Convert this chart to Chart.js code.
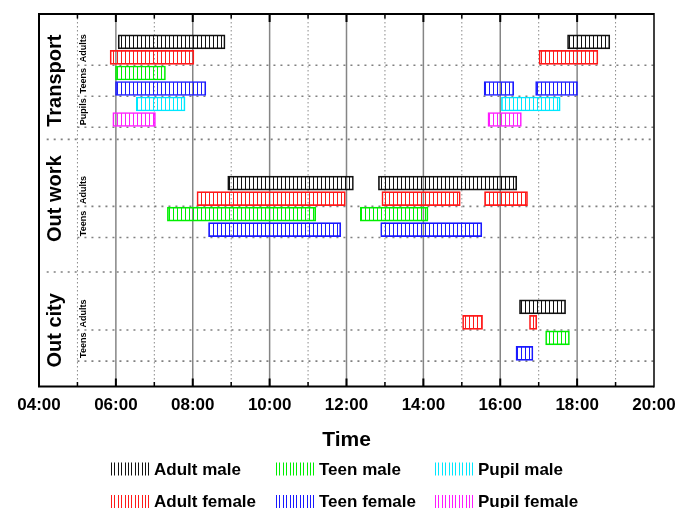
<!DOCTYPE html>
<html>
<head>
<meta charset="utf-8">
<script src="https://cdn.jsdelivr.net/npm/chart.js@4/dist/chart.umd.min.js"></script>
<style>
html,body{margin:0;padding:0;background:#fff;}
#wrap{width:678px;height:508px;}
</style>
</head>
<body>
<div id="wrap"><canvas id="c" width="678" height="508"></canvas></div>
<script>
// ---------------- DATA ----------------
const activities = ['Transport', 'Out work', 'Out city'];
const hourTicks = [4, 6, 8, 10, 12, 14, 16, 18, 20];
const seriesNames = ['Adult male', 'Teen male', 'Pupil male', 'Adult female', 'Teen female', 'Pupil female'];

// [activity, start hour, end hour]
const adultMale = [
  ['Transport', 6.06, 8.84], ['Transport', 17.75, 18.85],
  ['Out work', 8.91, 12.18], ['Out work', 12.83, 16.43],
  ['Out city', 16.50, 17.70]
];
const adultFemale = [
  ['Transport', 5.85, 8.03], ['Transport', 17.01, 18.54],
  ['Out work', 8.11, 11.97], ['Out work', 12.92, 14.96], ['Out work', 15.59, 16.71],
  ['Out city', 15.02, 15.54], ['Out city', 16.76, 16.95]
];
const teenMale = [
  ['Transport', 5.99, 7.29],
  ['Out work', 7.34, 11.20], ['Out work', 12.36, 14.12],
  ['Out city', 17.18, 17.80]
];
const teenFemale = [
  ['Transport', 5.99, 8.34], ['Transport', 15.58, 16.35], ['Transport', 16.92, 18.01],
  ['Out work', 8.41, 11.85], ['Out work', 12.89, 15.52],
  ['Out city', 16.41, 16.85]
];
const pupilMale = [
  ['Transport', 6.53, 7.80], ['Transport', 16.03, 17.56]
];
const pupilFemale = [
  ['Transport', 5.92, 7.03], ['Transport', 15.68, 16.55]
];
const seriesData = [adultMale, teenMale, pupilMale, adultFemale, teenFemale, pupilFemale];

// ---------------- LAYOUT / STYLE ----------------
const seriesColors = ['#111111', '#00ee00', '#00e8ff', '#ff1a1a', '#1a1aff', '#ff1aff'];
const rowY = {
  'Transport': {'Adult male': 22, 'Adult female': 21, 'Teen male': 20, 'Teen female': 19, 'Pupil male': 18, 'Pupil female': 17},
  'Out work':  {'Adult male': 12.9, 'Adult female': 11.9, 'Teen male': 10.9, 'Teen female': 9.9},
  'Out city':  {'Adult male': 4.93, 'Adult female': 3.93, 'Teen male': 2.93, 'Teen female': 1.93}
};
const rowLines = [20.5, 18.5, 16.5, 11.4, 9.4, 3.43, 1.43];
const sectionLines = [15.72, 7.17];
const sectionLabelY = {'Transport': 19.5, 'Out work': 11.9, 'Out city': 3.41};
const groupLabels = [
  ['Transport', 'Adults', 21.6], ['Transport', 'Teens', 19.5], ['Transport', 'Pupils', 17.5],
  ['Out work', 'Adults', 12.45], ['Out work', 'Teens', 10.3],
  ['Out city', 'Adults', 4.5], ['Out city', 'Teens', 2.45]
];
const FONT = 'Liberation Sans, Arial, sans-serif';

function hatch(color) {
  const c = document.createElement('canvas');
  c.width = 4; c.height = 4;
  const g = c.getContext('2d');
  g.fillStyle = color;
  g.fillRect(1, 0, 1, 4);
  return g.createPattern(c, 'repeat');
}

const datasets = seriesNames.map((name, i) => ({
  label: name,
  data: seriesData[i].map(([act, s, e]) => ({x: [s, e], y: rowY[act][name]})),
  backgroundColor: hatch(seriesColors[i]),
  borderColor: seriesColors[i],
  borderWidth: 1,
  borderSkipped: false,
  barThickness: 14,
  grouped: false
}));

function vText(ctx, text, cx, cy, font) {
  ctx.save();
  ctx.translate(cx, cy);
  ctx.rotate(-Math.PI / 2);
  ctx.font = font;
  ctx.textAlign = 'center';
  ctx.textBaseline = 'middle';
  ctx.fillStyle = '#000';
  ctx.fillText(text, 0, 0);
  ctx.restore();
}

const decor = {
  id: 'decor',
  beforeDatasetsDraw(chart) {
    const {ctx, chartArea: a, scales: {x, y}} = chart;
    ctx.save();
    for (let h = 5; h < 20; h++) {
      const px = x.getPixelForValue(h);
      ctx.beginPath();
      if (h % 2 === 0) {
        ctx.setLineDash([]); ctx.strokeStyle = '#858585'; ctx.lineWidth = 1.5;
      } else {
        ctx.setLineDash([1.5, 2.5]); ctx.strokeStyle = '#8a8a8a'; ctx.lineWidth = 1;
      }
      ctx.moveTo(px, a.top); ctx.lineTo(px, a.bottom); ctx.stroke();
    }
    ctx.setLineDash([2, 5]); ctx.lineWidth = 1.6; ctx.strokeStyle = '#808080';
    rowLines.forEach(v => {
      const py = y.getPixelForValue(v);
      ctx.beginPath(); ctx.moveTo(x.getPixelForValue(5), py); ctx.lineTo(a.right, py); ctx.stroke();
    });
    sectionLines.forEach(v => {
      const py = y.getPixelForValue(v);
      ctx.beginPath(); ctx.moveTo(x.getPixelForValue(4.2), py); ctx.lineTo(a.right, py); ctx.stroke();
    });
    ctx.restore();
  },
  afterDatasetsDraw(chart) {
    const {ctx, chartArea: a, scales: {x, y}} = chart;
    ctx.save();
    ctx.setLineDash([]);
    ctx.strokeStyle = '#000';
    ctx.lineWidth = 2;
    ctx.beginPath();
    ctx.moveTo(a.left, a.top); ctx.lineTo(a.right, a.top);
    ctx.moveTo(a.left, a.top - 1); ctx.lineTo(a.left, a.bottom + 1);
    ctx.moveTo(a.left, a.bottom); ctx.lineTo(a.right, a.bottom);
    ctx.stroke();
    ctx.lineWidth = 1.5;
    ctx.beginPath(); ctx.moveTo(a.right, a.top - 1); ctx.lineTo(a.right, a.bottom + 1); ctx.stroke();
    for (let h = 5; h < 20; h++) {
      const px = x.getPixelForValue(h);
      const major = h % 2 === 0;
      const len = major ? 8 : 4.5;
      ctx.lineWidth = major ? 2 : 1.5;
      ctx.beginPath();
      ctx.moveTo(px, a.top); ctx.lineTo(px, a.top + len);
      ctx.moveTo(px, a.bottom); ctx.lineTo(px, a.bottom - len);
      ctx.stroke();
    }
    activities.forEach(act => {
      vText(ctx, act, x.getPixelForValue(4.44), y.getPixelForValue(sectionLabelY[act]), 'bold 20px ' + FONT);
    });
    groupLabels.forEach(([act, g, v]) => {
      vText(ctx, g, x.getPixelForValue(5.15), y.getPixelForValue(v), 'bold 9px ' + FONT);
    });
    ctx.restore();
  },
  afterDraw(chart) {
    const ctx = chart.ctx;
    const colX = [111, 276, 435];
    const rowYpx = [469, 501.5];
    ctx.save();
    chart.data.datasets.forEach((ds, i) => {
      const sx = colX[i % 3];
      const cy = rowYpx[Math.floor(i / 3)];
      ctx.strokeStyle = seriesColors[i];
      ctx.lineWidth = 1;
      for (let k = 0; k < 12; k++) {
        const lx = Math.round(sx + k * 3.4) + 0.5;
        ctx.beginPath(); ctx.moveTo(lx, cy - 6.5); ctx.lineTo(lx, cy + 6.5); ctx.stroke();
      }
      ctx.fillStyle = '#000';
      ctx.font = 'bold 17px ' + FONT;
      ctx.textAlign = 'left';
      ctx.textBaseline = 'middle';
      ctx.fillText(ds.label, sx + 43, cy + 1);
    });
    ctx.restore();
  }
};

new Chart(document.getElementById('c'), {
  type: 'bar',
  data: {datasets},
  plugins: [decor],
  options: {
    indexAxis: 'y',
    responsive: false,
    animation: false,
    layout: {padding: {left: 39, right: 24, top: 14, bottom: 55}},
    plugins: {legend: {display: false}, tooltip: {enabled: false}},
    scales: {
      x: {
        type: 'linear', min: 4, max: 20, position: 'bottom', offset: false,
        afterBuildTicks: s => { s.ticks = hourTicks.map(v => ({value: v})); },
        afterFit: s => { s.paddingLeft = 0; s.paddingRight = 0; },
        ticks: {
          callback: v => String(v).padStart(2, '0') + ':00',
          font: {family: FONT, size: 17, weight: 'bold'},
          color: '#000', padding: 9, maxRotation: 0, autoSkip: false
        },
        grid: {display: false, drawTicks: false},
        border: {display: false},
        title: {
          display: true, text: 'Time', color: '#000',
          font: {family: FONT, size: 21, weight: 'bold'},
          padding: {top: 3, bottom: 0}
        }
      },
      y: {type: 'linear', min: -0.2, max: 23.8, display: false, offset: false, grid: {offset: false}}
    }
  }
});
</script>
</body>
</html>
